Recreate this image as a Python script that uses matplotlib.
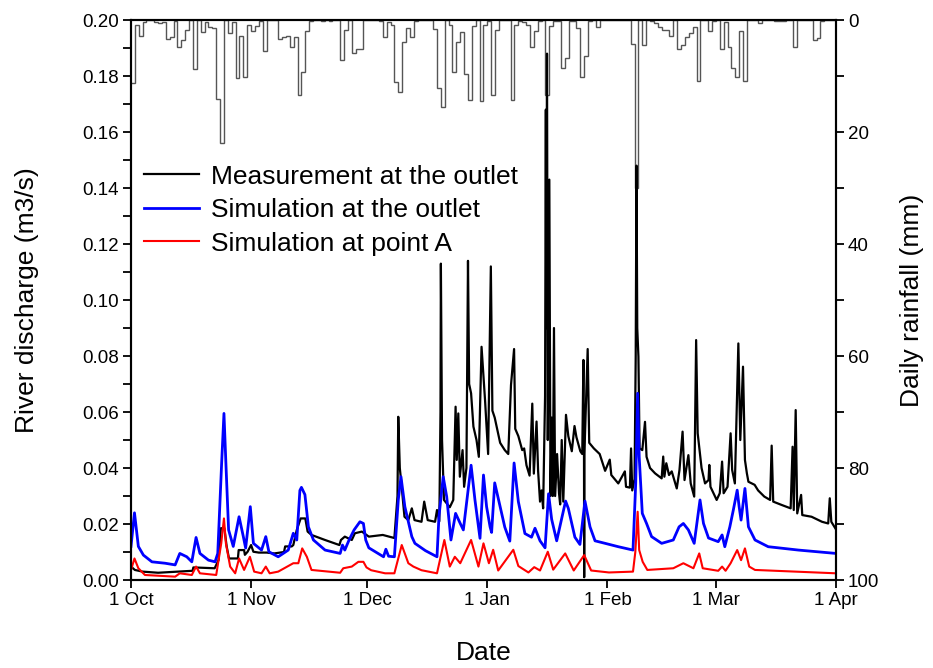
import datetime as dt

import matplotlib
matplotlib.use('Agg')
from matplotlib import pyplot as plt
import matplotlib.dates as mdates
from matplotlib.ticker import MultipleLocator, FuncFormatter
import numpy as np

plt.rcParams['font.family'] = ['Liberation Sans', 'DejaVu Sans']

start = dt.datetime(2013, 10, 1)
end = dt.datetime(2014, 4, 1)

# daily rainfall (mm), one value per day from 1 Oct
rain_mm = [
    11.3, 0.8, 2.8, 0.3, 0, 0, 0.3, 0.5, 0.3, 3.3,
    3.0, 0.2, 4.9, 3.6, 1.8, 0, 8.8, 0, 2.2, 0.4,
    1.2, 1.5, 14.1, 22.0, 0, 2.4, 0.3, 10.4, 2.8, 10.2,
    0.8, 2.0, 1.0, 0.2, 5.5, 0, 0, 0, 3.4, 3.0,
    2.8, 4.9, 3.0, 13.3, 9.3, 2.0, 0.1, 0, 0, 0.2,
    0, 0.2, 0, 0, 7.1, 1.8, 0, 5.8, 5.2, 5.2,
    0, 0, 0, 0, 0.2, 3.0, 0.3, 0.8, 11.0, 12.8,
    4.0, 1.4, 3.0, 0.1, 0, 0, 0, 0, 1.6, 12.1,
    15.5, 0, 0.8, 9.2, 4.0, 2.2, 9.7, 14.3, 1.1, 0,
    14.4, 0.8, 0.2, 13.3, 1.8, 0, 0, 0, 14.3, 0.8,
    0.1, 0.3, 0.8, 4.9, 2.0, 0.1, 0, 13.3, 1.0, 0.1,
    0.2, 8.5, 6.8, 0.1, 0.2, 1.5, 10.1, 6.5, 0.2, 0,
    1.2, 0, 0, 0, 0, 0, 0, 0, 0, 4.2,
    30.0, 0, 4.5, 0, 0.2, 0.6, 1.2, 1.8, 1.8, 2.8,
    0, 5.1, 4.4, 3.0, 2.3, 1.2, 10.9, 0, 0, 2.0,
    0.1, 0, 5.2, 0.3, 4.9, 8.5, 10.1, 2.0, 10.9, 0,
    0, 0, 0.6, 0, 0, 0, 0.1, 0.1, 0.1, 0,
    0, 4.8, 0, 0, 0, 0, 3.6, 3.2, 0.1, 0,
    0, 0,
]

# measured discharge at the outlet (day since 1 Oct, m3/s)
meas_day = [
    0.0, 1.0, 3.0, 7.0, 12.0, 15.9, 16.1, 21.6, 22.6, 23.2, 24.1, 24.7, 25.3,
    27.6, 27.8, 29.2, 29.4, 30.1, 31.0, 31.6, 33.0, 35.0, 37.0, 39.5, 39.8,
    41.5, 41.9, 42.8, 43.8, 45.0, 45.6, 46.6, 50.1, 53.8, 54.2, 55.2, 57.0,
    57.8, 59.6, 61.4, 65.0, 68.0, 68.8, 69.0, 69.4, 69.8, 70.6, 71.6, 72.5,
    73.2, 75.0, 75.7, 76.6, 78.5, 79.0, 79.6, 79.9, 80.0, 80.3, 80.8, 82.3,
    83.2, 83.8, 84.1, 84.5, 84.9, 85.6, 86.0, 86.6, 87.0, 87.3, 87.8, 88.4,
    89.2, 89.8, 90.5, 91.4, 92.2, 92.9, 93.3, 93.9, 95.3, 96.5, 97.4, 98.1,
    98.9, 99.2, 100.0, 101.0, 101.5, 102.1, 102.9, 103.6, 104.0, 104.7,
    105.1, 105.6, 106.0, 106.4, 106.9, 107.1, 107.2, 107.4, 107.6, 108.0,
    108.3, 108.6, 108.9, 109.2, 109.5, 110.0, 110.5, 110.8, 111.2, 111.6,
    112.3, 112.9, 113.8, 114.5, 115.0, 116.0, 116.5, 116.8, 116.95, 117.0,
    117.05, 117.9, 118.3, 119.5, 121.0, 122.4, 123.6, 124.0, 125.8, 127.5,
    127.8, 128.8, 129.1, 129.4, 130.0, 130.3, 130.5, 130.7, 131.0, 131.3,
    132.0, 132.7, 133.1, 134.0, 135.3, 137.0, 137.4, 137.7, 138.2, 138.9,
    139.6, 140.9, 141.6, 142.4, 142.9, 143.9, 144.5, 145.4, 145.9, 146.3,
    147.3, 148.2, 149.1, 149.3, 149.6, 151.2, 152.0, 152.6, 153.0, 154.0,
    154.8, 155.2, 155.9, 156.8, 157.3, 158.0, 158.5, 159.0, 159.4, 161.0,
    161.9, 163.5, 165.0, 165.4, 165.8, 168.0, 170.3, 170.8, 171.1, 171.6,
    172.0, 173.0, 173.3, 175.7, 178.4, 180.0, 180.4, 180.8, 182.0,
]
meas_q = [
    0.0048, 0.0036, 0.0030, 0.0026, 0.0030, 0.0033, 0.0045, 0.0042, 0.0071,
    0.0185, 0.0185, 0.0120, 0.0077, 0.0077, 0.0107, 0.0107, 0.0090, 0.0101,
    0.0125, 0.0101, 0.0098, 0.0098, 0.0095, 0.0100, 0.0120, 0.0120, 0.0125,
    0.0179, 0.0220, 0.0220, 0.0173, 0.0161, 0.0143, 0.0125, 0.0143, 0.0155,
    0.0143, 0.0167, 0.0173, 0.0155, 0.0161, 0.0150, 0.0300, 0.0583, 0.0400,
    0.0345, 0.0226, 0.0214, 0.0256, 0.0214, 0.0208, 0.0280, 0.0214, 0.0208,
    0.0250, 0.0210, 0.0600, 0.1130, 0.0500, 0.0286, 0.0260, 0.0286, 0.0619,
    0.0429, 0.0595, 0.0369, 0.0464, 0.0333, 0.0400, 0.1140, 0.0700, 0.0667,
    0.0548, 0.0500, 0.0440, 0.0833, 0.0643, 0.0450, 0.1120, 0.0605, 0.0580,
    0.0490, 0.0464, 0.0450, 0.0696, 0.0825, 0.0540, 0.0514, 0.0464, 0.0470,
    0.0410, 0.0373, 0.0630, 0.0380, 0.0566, 0.0390, 0.0280, 0.0320, 0.0256,
    0.0657, 0.1680, 0.0900, 0.1880, 0.0500, 0.1430, 0.0300, 0.0580, 0.0300,
    0.0900, 0.0300, 0.0450, 0.0310, 0.0270, 0.0500, 0.0280, 0.0590, 0.0514,
    0.0460, 0.0550, 0.0510, 0.0460, 0.0450, 0.0786, 0.0450, 0.0010, 0.0450,
    0.0825, 0.0490, 0.0470, 0.0450, 0.0390, 0.0430, 0.0375, 0.0345, 0.0388,
    0.0333, 0.0330, 0.0470, 0.0320, 0.0360, 0.0800, 0.1480, 0.0900, 0.0798,
    0.0470, 0.0464, 0.0565, 0.0440, 0.0400, 0.0381, 0.0363, 0.0441, 0.0369,
    0.0417, 0.0375, 0.0388, 0.0327, 0.0393, 0.0530, 0.0357, 0.0446, 0.0345,
    0.0298, 0.0857, 0.0524, 0.0400, 0.0345, 0.0357, 0.0411, 0.0333, 0.0286,
    0.0310, 0.0423, 0.0310, 0.0333, 0.0524, 0.0393, 0.0345, 0.0845, 0.0500,
    0.0762, 0.0429, 0.0381, 0.0351, 0.0340, 0.0320, 0.0298, 0.0286, 0.0480,
    0.0280, 0.0268, 0.0256, 0.0476, 0.0250, 0.0607, 0.0238, 0.0304, 0.0232,
    0.0226, 0.0208, 0.0202, 0.0292, 0.0208, 0.0181,
]

# simulated discharge at the outlet
sim_out_day = [
    0.0, 0.9, 1.9, 3.2, 5.4, 8.8, 11.4, 12.6, 14.4, 15.7, 16.8, 17.8, 20.0,
    21.7, 22.4, 23.4, 24.0, 24.5, 25.2, 26.4, 27.9, 29.0, 29.6, 30.8, 31.6,
    33.7, 34.8, 35.6, 38.0, 40.6, 41.9, 42.8, 43.6, 44.0, 44.9, 45.8, 47.1,
    50.1, 54.0, 54.6, 55.2, 56.3, 57.6, 59.1, 60.0, 60.6, 61.4, 65.2, 65.8,
    66.5, 68.0, 69.0, 69.7, 70.7, 72.5, 73.3, 76.0, 79.0, 79.5, 80.6, 81.5,
    82.6, 83.8, 85.0, 85.8, 87.8, 88.8, 90.1, 91.0, 91.8, 92.7, 93.1, 93.9,
    96.5, 97.8, 98.9, 100.0, 101.7, 103.4, 104.3, 105.6, 106.9, 107.8, 108.6,
    109.9, 112.2, 112.9, 114.6, 115.9, 117.2, 118.5, 119.8, 122.4, 125.8,
    129.6, 130.3, 130.8, 131.2, 132.0, 133.1, 134.4, 137.0, 140.0, 141.5,
    142.6, 143.9, 145.4, 146.9, 147.8, 149.1, 151.6, 152.6, 153.3, 154.6,
    155.5, 156.5, 157.0, 157.5, 158.5, 159.4, 161.1, 164.5, 172.3, 182.0,
]
sim_out_q = [
    0.0120, 0.0240, 0.0120, 0.0089, 0.0065, 0.0060, 0.0054, 0.0095, 0.0083,
    0.0065, 0.0152, 0.0095, 0.0071, 0.0065, 0.0095, 0.0417, 0.0595, 0.0417,
    0.0179, 0.0120, 0.0226, 0.0155, 0.0114, 0.0262, 0.0131, 0.0107, 0.0155,
    0.0101, 0.0083, 0.0107, 0.0167, 0.0143, 0.0320, 0.0331, 0.0305, 0.0190,
    0.0143, 0.0107, 0.0095, 0.0125, 0.0107, 0.0143, 0.0179, 0.0208, 0.0202,
    0.0143, 0.0115, 0.0083, 0.0110, 0.0085, 0.0083, 0.0286, 0.0369, 0.0262,
    0.0155, 0.0131, 0.0105, 0.0083, 0.0226, 0.0369, 0.0298, 0.0143, 0.0238,
    0.0202, 0.0179, 0.0410, 0.0286, 0.0149, 0.0375, 0.0262, 0.0190, 0.0170,
    0.0347, 0.0189, 0.0139, 0.0418, 0.0280, 0.0166, 0.0153, 0.0185, 0.0140,
    0.0115, 0.0308, 0.0217, 0.0140, 0.0282, 0.0256, 0.0153, 0.0127, 0.0282,
    0.0190, 0.0140, 0.0131, 0.0119, 0.0107, 0.0345, 0.0667, 0.0440, 0.0238,
    0.0202, 0.0155, 0.0131, 0.0143, 0.0190, 0.0202, 0.0179, 0.0131, 0.0286,
    0.0202, 0.0150, 0.0137, 0.0161, 0.0119, 0.0190, 0.0250, 0.0321, 0.0262,
    0.0214, 0.0327, 0.0190, 0.0143, 0.0119, 0.0107, 0.0095,
]

# simulated discharge at point A
sim_a_day = [
    0.0, 0.9, 1.9, 3.6, 11.4, 12.6, 15.7, 16.8, 17.8, 22.0, 23.3, 24.0, 24.5,
    25.6, 26.9, 27.9, 29.2, 30.7, 31.8, 33.7, 34.8, 35.8, 38.0, 41.9, 43.2,
    44.2, 45.4, 46.6, 54.0, 54.8, 57.0, 58.7, 60.0, 60.8, 62.0, 65.6, 68.0,
    69.9, 71.6, 72.9, 75.0, 79.0, 80.9, 82.3, 83.6, 85.0, 87.8, 89.7, 91.0,
    92.4, 93.5, 94.8, 98.7, 100.0, 102.6, 104.1, 105.6, 107.6, 109.0, 112.1,
    114.3, 117.0, 118.8, 123.4, 129.6, 130.2, 130.8, 131.2, 132.1, 133.3,
    140.0, 142.6, 145.2, 146.7, 147.6, 151.6, 152.6, 153.5, 154.8, 156.5,
    157.5, 158.5, 159.6, 161.1, 182.0,
]
sim_a_q = [
    0.0036, 0.0077, 0.0042, 0.0018, 0.0012, 0.0024, 0.0018, 0.0048, 0.0024,
    0.0018, 0.0131, 0.0220, 0.0131, 0.0048, 0.0024, 0.0077, 0.0036, 0.0083,
    0.0030, 0.0024, 0.0048, 0.0024, 0.0030, 0.0060, 0.0060, 0.0113, 0.0083,
    0.0036, 0.0026, 0.0042, 0.0048, 0.0065, 0.0065, 0.0045, 0.0035, 0.0024,
    0.0024, 0.0125, 0.0060, 0.0048, 0.0035, 0.0024, 0.0143, 0.0048, 0.0083,
    0.0060, 0.0143, 0.0048, 0.0131, 0.0060, 0.0108, 0.0034, 0.0108, 0.0050,
    0.0027, 0.0046, 0.0034, 0.0101, 0.0037, 0.0095, 0.0034, 0.0089, 0.0034,
    0.0027, 0.0030, 0.0100, 0.0244, 0.0107, 0.0065, 0.0036, 0.0042, 0.0060,
    0.0042, 0.0095, 0.0042, 0.0033, 0.0048, 0.0033, 0.0060, 0.0107, 0.0071,
    0.0113, 0.0048, 0.0036, 0.0024,
]


def to_dates(days):
    return [start + dt.timedelta(days=float(d)) for d in days]


def day_month(x, pos):
    d = mdates.num2date(x)
    return '%d %s' % (d.day, d.strftime('%b'))


fig = plt.figure(figsize=(9.33, 6.68), dpi=100)
ax = fig.add_axes([0.1404, 0.1317, 0.7556, 0.8383])
ax2 = ax.twinx()
ax.set_zorder(ax2.get_zorder() + 1)
ax.patch.set_visible(False)

# rainfall, hanging from the top
edges = to_dates(range(len(rain_mm) + 1))
ax2.stairs(rain_mm, mdates.date2num(edges), color='#555555', lw=1.0,
           baseline=None)
ax2.set_ylim(100, 0)
ax2.yaxis.set_major_locator(MultipleLocator(20))
ax2.yaxis.set_minor_locator(MultipleLocator(10))
ax2.set_ylabel('Daily rainfall (mm)', fontsize=19, labelpad=15)

ax.plot(to_dates(meas_day), meas_q, color='black', lw=1.6,
        label='Measurement at the outlet')
ax.plot(to_dates(sim_out_day), sim_out_q, color='#0000ff', lw=2.0,
        label='Simulation at the outlet')
ax.plot(to_dates(sim_a_day), sim_a_q, color='#ff0000', lw=1.5,
        label='Simulation at point A')

ax.set_xlim(start, end)
ax.set_ylim(0, 0.20)
ax.yaxis.set_major_locator(MultipleLocator(0.02))
ax.yaxis.set_minor_locator(MultipleLocator(0.01))
ax.yaxis.set_major_formatter(FuncFormatter(lambda v, p: '%.2f' % v))
ax.xaxis.set_major_locator(mdates.MonthLocator())
ax.xaxis.set_major_formatter(FuncFormatter(day_month))

ax.set_xlabel('Date', fontsize=19, labelpad=23)
ax.set_ylabel('River discharge (m3/s)', fontsize=19, labelpad=31)

for a in (ax, ax2):
    a.tick_params(which='both', direction='out', width=1.3, labelsize=13.5,
                  pad=2.5)
    a.tick_params(which='major', length=6)
    a.tick_params(which='minor', length=6)
    for s in a.spines.values():
        s.set_linewidth(1.5)

ax.legend(loc='upper left', bbox_to_anchor=(0.018, 0.742), frameon=False,
          fontsize=19, handlelength=2.1, handletextpad=0.45,
          labelspacing=0.36, borderaxespad=0, borderpad=0)

fig.savefig('out.png', dpi=100)
